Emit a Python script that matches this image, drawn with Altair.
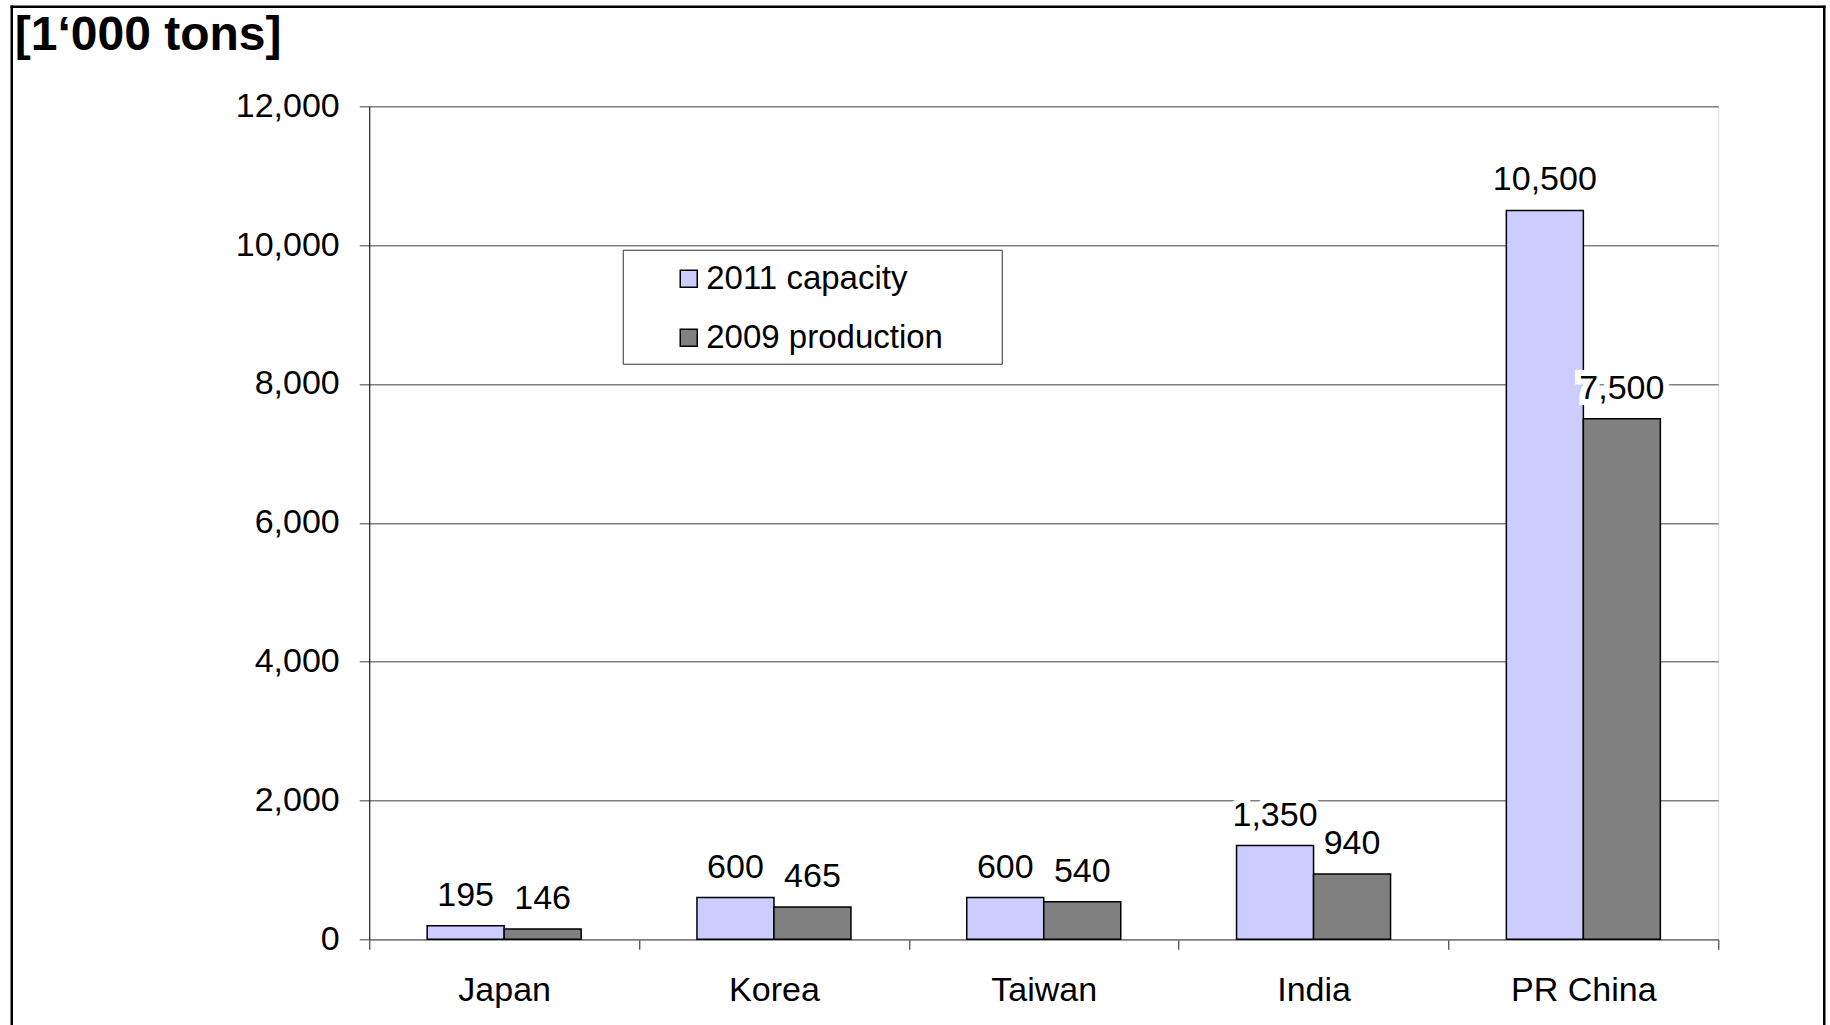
import altair as alt
import pandas as pd

# Steel-making capacity vs. production by country, in thousand tons
countries = ["Japan", "Korea", "Taiwan", "India", "PR China"]
capacity_2011 = [195, 600, 600, 1350, 10500]
production_2009 = [146, 465, 540, 940, 7500]
series_names = ["2011 capacity", "2009 production"]
series_colors = ["#CCCCFF", "#808080"]
y_ticks = [0, 2000, 4000, 6000, 8000, 10000, 12000]

rows = []
for c, cap, prod in zip(countries, capacity_2011, production_2009):
    rows.append({"country": c, "series": series_names[0], "value": cap})
    rows.append({"country": c, "series": series_names[1], "value": prod})
df = pd.DataFrame(rows)

W, H = 1349, 833
FONT = "Liberation Sans"

# category bands fill the axis so ticks fall on the boundaries
x_enc = alt.X(
    "country:N",
    sort=countries,
    scale=alt.Scale(paddingInner=0, paddingOuter=0),
    axis=alt.Axis(
        title=None, labelAngle=0, labelFontSize=34, labelPadding=24,
        labelColor="black", tickBand="extent", tickSize=10,
        tickColor="#404040", tickWidth=1.2, domainColor="#808080",
        domainWidth=1.5, grid=False,
    ),
)
# the two bars of a group take the middle of each band
x_off = alt.XOffset(
    "series:N", sort=series_names,
    scale=alt.Scale(paddingInner=0, paddingOuter=0.752),
)
y_enc = alt.Y(
    "value:Q",
    scale=alt.Scale(domain=[0, 12000], nice=False),
    axis=alt.Axis(
        values=y_ticks, format=",.0f", title="[1\u2018000 tons]",
        titleAngle=0, titleX=-355, titleY=-57, titleAlign="left",
        titleBaseline="alphabetic", titleFontSize=48, titleFontWeight="bold",
        titleColor="black", labelFontSize=34, labelPadding=20,
        labelColor="black", tickSize=10, tickColor="#808080", tickWidth=1.5,
        domainColor="black", domainWidth=1, gridColor="#808080",
        gridWidth=1.5,
    ),
)

bars = alt.Chart(df).mark_bar(stroke="black", strokeWidth=1.5).encode(
    x=x_enc,
    xOffset=x_off,
    y=y_enc,
    color=alt.Color(
        "series:N",
        sort=series_names,
        scale=alt.Scale(domain=series_names, range=series_colors),
        legend=alt.Legend(
            title=None, orient="none", legendX=254, legendY=144,
            padding=12, symbolOffset=37, symbolType="square",
            symbolSize=289, symbolStrokeColor="black", symbolStrokeWidth=1.5,
            labelOffset=1, labelFontSize=33, labelColor="black",
            rowPadding=25, labelLimit=400,
        ),
    ),
)

# legend frame
one_row = pd.DataFrame({"k": [0]})
legend_box = alt.Chart(one_row).mark_rect(
    fill="white", stroke="#333333", strokeWidth=1
).encode(
    x=alt.value(254), x2=alt.value(633), y=alt.value(144), y2=alt.value(258)
)

# value labels: a white halo underneath masks the gridlines
halo = alt.Chart(df).mark_text(
    fontSize=34, baseline="middle", dy=-30, stroke="white",
    strokeWidth=12, strokeJoin="miter", fill="white",
).encode(x=x_enc, xOffset=x_off, y=y_enc,
         text=alt.Text("value:Q", format=",.0f"))

labels = alt.Chart(df).mark_text(
    fontSize=34, baseline="middle", dy=-30, color="black",
).encode(x=x_enc, xOffset=x_off, y=y_enc,
         text=alt.Text("value:Q", format=",.0f"))

# outer frame (left, top, right edges)
frame_style = dict(color="black", strokeWidth=2.5, strokeCap="square")
left_edge = alt.Chart(one_row).mark_rule(**frame_style).encode(
    x=alt.value(-357.5), y=alt.value(-99.5), y2=alt.value(918)
)
top_edge = alt.Chart(one_row).mark_rule(**frame_style).encode(
    x=alt.value(-357.5), x2=alt.value(1455), y=alt.value(-99.5)
)
right_edge = alt.Chart(one_row).mark_rule(**frame_style).encode(
    x=alt.value(1455), y=alt.value(-99.5), y2=alt.value(918)
)

chart = (
    alt.layer(left_edge, top_edge, right_edge, legend_box, bars, halo, labels)
    .properties(
        width=W, height=H,
        padding={"left": 9.25, "top": 4.25, "right": 0, "bottom": 0},
        background="white",
    )
    .configure_view(stroke=None)
    .configure(font=FONT)
)

chart.save("out.html", embed_options={"renderer": "svg", "actions": False})
